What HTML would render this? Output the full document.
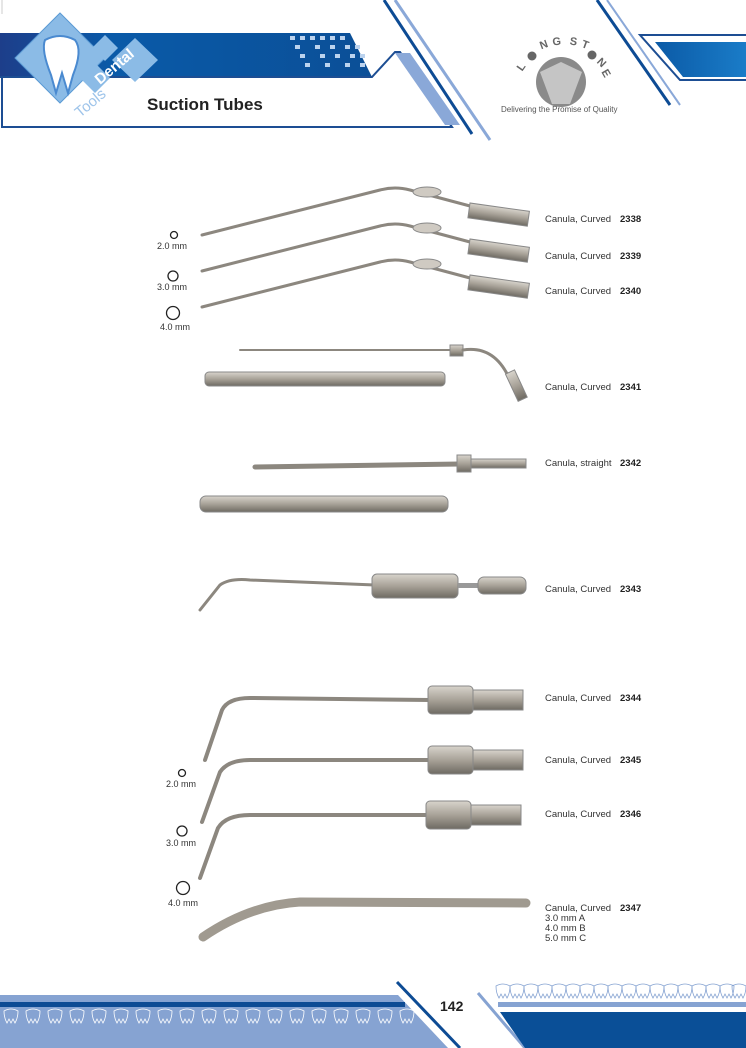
<!DOCTYPE html>
<html><head><meta charset="utf-8"><style>
html,body{margin:0;padding:0;background:#fff;}
svg{display:block;font-family:"Liberation Sans",sans-serif;}
</style></head><body>
<svg width="746" height="1048" viewBox="0 0 746 1048" xmlns="http://www.w3.org/2000/svg">
<defs>
<linearGradient id="band" x1="0" x2="1"><stop offset="0" stop-color="#1d3e8a"/><stop offset="0.3" stop-color="#0a5aa8"/><stop offset="1" stop-color="#0b4f97"/></linearGradient>
<linearGradient id="metal" x1="0" y1="0" x2="0" y2="1"><stop offset="0" stop-color="#d8d4cc"/><stop offset="0.5" stop-color="#a8a298"/><stop offset="1" stop-color="#6e6a62"/></linearGradient>
<linearGradient id="rb" x1="0" x2="1"><stop offset="0" stop-color="#0b5aa6"/><stop offset="1" stop-color="#1a7cc8"/></linearGradient>
</defs>
<line x1="2" y1="0" x2="2" y2="14" stroke="#ccc"/>
<polygon points="0,33 350,33 372,77 0,77" fill="url(#band)"/>
<g fill="#bcd3ee">
<rect x="290" y="36" width="5" height="4"/><rect x="300" y="36" width="5" height="4"/><rect x="310" y="36" width="5" height="4"/><rect x="320" y="36" width="5" height="4"/><rect x="330" y="36" width="5" height="4"/><rect x="340" y="36" width="5" height="4"/>
<rect x="295" y="45" width="5" height="4"/><rect x="315" y="45" width="5" height="4"/><rect x="330" y="45" width="5" height="4"/><rect x="345" y="45" width="5" height="4"/><rect x="355" y="45" width="5" height="4"/>
<rect x="300" y="54" width="5" height="4"/><rect x="320" y="54" width="5" height="4"/><rect x="335" y="54" width="5" height="4"/><rect x="350" y="54" width="5" height="4"/><rect x="360" y="54" width="5" height="4"/>
<rect x="305" y="63" width="5" height="4"/><rect x="325" y="63" width="5" height="4"/><rect x="345" y="63" width="5" height="4"/><rect x="360" y="63" width="5" height="4"/>
</g>
<polyline points="0,77 372,77 395,52 400,52 452,127 2,127 2,77" fill="none" stroke="#1d4e93" stroke-width="2"/>
<polygon points="395,53 410,53 460,125 445,125" fill="#8aa8d8"/>
<line x1="384" y1="0" x2="472" y2="134" stroke="#0d4b94" stroke-width="3"/>
<line x1="395" y1="0" x2="490" y2="140" stroke="#8aa8d8" stroke-width="3"/>
<line x1="597" y1="0" x2="670" y2="105" stroke="#0d4b94" stroke-width="3"/>
<line x1="607" y1="0" x2="680" y2="105" stroke="#8aa8d8" stroke-width="2"/>
<polyline points="746,35 640,35 680,80 746,80" fill="none" stroke="#1d4e93" stroke-width="2"/>
<polygon points="655,42 746,42 746,77 683,77" fill="url(#rb)"/>
<polygon points="60,13 105,58 60,103 15,58" fill="#8bbbe6" stroke="#5a9ad4"/>
<polygon points="105,35 118,48 105,61 92,48" fill="#8bbbe6"/>
<polygon points="135,38 158,60 135,82 112,60" fill="#8bbbe6"/>
<polygon points="95,63 110,78 95,93 80,78" fill="#8bbbe6"/>
<path d="M45,40 q15,-8 30,0 q8,10 -2,35 l-5,18 l-6,-20 l-6,20 l-5,-18 q-10,-25 -6,-35z" fill="#fff" stroke="#4a8ad0" stroke-width="2"/>
<text x="100" y="85" fill="#fff" font-weight="bold" font-size="15" transform="rotate(-40 100 85)">Dental</text>
<text x="80" y="118" fill="#9ec4ea" font-size="15" transform="rotate(-40 80 118)">Tools</text>
<text x="147" y="110" font-size="17" font-weight="bold" fill="#222">Suction Tubes</text>
<circle cx="561" cy="82" r="25" fill="#8a8a8a"/>
<polygon points="540,72 561,62 582,72 570,104 552,104" fill="#fff" opacity="0.5"/>
<g font-size="11" font-weight="bold" fill="#666" text-anchor="middle">
<text transform="translate(524,69) rotate(-55)">L</text>
<circle cx="532" cy="56" r="4.5" fill="#666"/>
<text transform="translate(545,48) rotate(-20)">N</text>
<text transform="translate(557,45) rotate(-5)">G</text>
<text transform="translate(573,45) rotate(8)">S</text>
<text transform="translate(584,48) rotate(20)">T</text>
<circle cx="592" cy="55" r="4.5" fill="#666"/>
<text transform="translate(599,65) rotate(45)">N</text>
<text transform="translate(603,75) rotate(60)">E</text>
</g>
<text x="501" y="112" font-size="8" fill="#555">Delivering the Promise of Quality</text>
<g stroke-linecap="round">
<g id="c1">
<path d="M202,235 L380,190 Q395,186 410,190 L470,206" fill="none" stroke="#8c877f" stroke-width="3"/>
<ellipse cx="427" cy="192" rx="14" ry="5" fill="#cfcac2" stroke="#888"/>
<rect x="470" y="203" width="60" height="15" fill="url(#metal)" stroke="#888" transform="rotate(8 470 203)"/>
</g>
<use href="#c1" y="36"/>
<use href="#c1" y="72"/>
<line x1="240" y1="350" x2="455" y2="350" stroke="#8c877f" stroke-width="2"/>
<rect x="450" y="345" width="13" height="11" fill="url(#metal)" stroke="#888"/>
<path d="M463,350 Q495,345 510,380" fill="none" stroke="#8c877f" stroke-width="3"/>
<rect x="505" y="372" width="10" height="30" fill="url(#metal)" stroke="#888" transform="rotate(-25 510 372)"/>
<rect x="205" y="372" width="240" height="14" rx="4" fill="url(#metal)" stroke="#888"/>
<line x1="255" y1="467" x2="460" y2="464" stroke="#8c877f" stroke-width="5"/>
<rect x="457" y="455" width="14" height="17" fill="url(#metal)" stroke="#888"/>
<rect x="471" y="459" width="55" height="9" fill="url(#metal)" stroke="#888"/>
<rect x="200" y="496" width="248" height="16" rx="6" fill="url(#metal)" stroke="#888"/>
<path d="M200,610 L220,585 Q230,578 250,580 L375,585" fill="none" stroke="#8c877f" stroke-width="3"/>
<rect x="372" y="574" width="86" height="24" rx="5" fill="url(#metal)" stroke="#888"/>
<rect x="458" y="583" width="20" height="5" fill="#999"/>
<rect x="478" y="577" width="48" height="17" rx="6" fill="url(#metal)" stroke="#888"/>
<path d="M205,760 L222,710 Q228,698 250,698 L430,700" fill="none" stroke="#8c877f" stroke-width="4"/>
<rect x="428" y="686" width="45" height="28" rx="4" fill="url(#metal)" stroke="#888"/>
<rect x="473" y="690" width="50" height="20" fill="url(#metal)" stroke="#888"/>
<path d="M202,822 L220,772 Q228,760 250,760 L430,760" fill="none" stroke="#8c877f" stroke-width="4"/>
<rect x="428" y="746" width="45" height="28" rx="4" fill="url(#metal)" stroke="#888"/>
<rect x="473" y="750" width="50" height="20" fill="url(#metal)" stroke="#888"/>
<path d="M200,878 L218,828 Q226,815 250,815 L428,815" fill="none" stroke="#8c877f" stroke-width="4"/>
<rect x="426" y="801" width="45" height="28" rx="4" fill="url(#metal)" stroke="#888"/>
<rect x="471" y="805" width="50" height="20" fill="url(#metal)" stroke="#888"/>
<path d="M203,937 Q250,905 300,902 L526,903" fill="none" stroke="#a09a90" stroke-width="9"/>
</g>
<g fill="none" stroke="#222" stroke-width="1.3">
<circle cx="174" cy="235" r="3.5"/><circle cx="173" cy="276" r="5"/><circle cx="173" cy="313" r="6.5"/>
<circle cx="182" cy="773" r="3.5"/><circle cx="182" cy="831" r="5"/><circle cx="183" cy="888" r="6.5"/>
</g>
<g font-size="9" fill="#333">
<text x="157" y="249">2.0 mm</text><text x="157" y="290">3.0 mm</text><text x="160" y="330">4.0 mm</text>
<text x="166" y="787">2.0 mm</text><text x="166" y="846">3.0 mm</text><text x="168" y="906">4.0 mm</text>
</g>
<g font-size="9.5" fill="#333">
<text x="545" y="222">Canula, Curved</text><text x="545" y="259">Canula, Curved</text><text x="545" y="294">Canula, Curved</text>
<text x="545" y="390">Canula, Curved</text><text x="545" y="466">Canula, straight</text><text x="545" y="592">Canula, Curved</text>
<text x="545" y="701">Canula, Curved</text><text x="545" y="763">Canula, Curved</text><text x="545" y="817">Canula, Curved</text>
<text x="545" y="911">Canula, Curved</text><text x="545" y="921">3.0 mm A</text><text x="545" y="931">4.0 mm B</text><text x="545" y="941">5.0 mm C</text>
</g>
<g font-size="9.5" font-weight="bold" fill="#222">
<text x="620" y="222">2338</text><text x="620" y="259">2339</text><text x="620" y="294">2340</text>
<text x="620" y="390">2341</text><text x="620" y="466">2342</text><text x="620" y="592">2343</text>
<text x="620" y="701">2344</text><text x="620" y="763">2345</text><text x="620" y="817">2346</text><text x="620" y="911">2347</text>
</g>
<polygon points="0,995 398,995 448,1048 0,1048" fill="#86a3d2"/>
<rect x="0" y="1002" width="405" height="5" fill="#0d4b94"/>
<line x1="397" y1="982" x2="460" y2="1048" stroke="#0d4b94" stroke-width="3"/>
<text x="440" y="1011" font-size="14" font-weight="bold" fill="#222">142</text>
<line x1="478" y1="993" x2="525" y2="1048" stroke="#86a3d2" stroke-width="3"/>
<rect x="498" y="1002" width="248" height="5" fill="#86a3d2"/>
<polygon points="500,1012 746,1012 746,1048 525,1048" fill="#0a4f97"/>
<g fill="none" stroke="#fff" stroke-width="0.8">
<path id="t" d="M4,1011 q7,-4 14,0 q0,7 -3,12 l-2,-4 l-2,4 l-2,-4 l-2,4 q-3,-5 -3,-12z"/>
</g>
<g fill="none" stroke="#fff" stroke-width="0.8">
<use href="#t" x="22"/><use href="#t" x="44"/><use href="#t" x="66"/><use href="#t" x="88"/><use href="#t" x="110"/><use href="#t" x="132"/><use href="#t" x="154"/><use href="#t" x="176"/><use href="#t" x="198"/><use href="#t" x="220"/><use href="#t" x="242"/><use href="#t" x="264"/><use href="#t" x="286"/><use href="#t" x="308"/><use href="#t" x="330"/><use href="#t" x="352"/><use href="#t" x="374"/><use href="#t" x="396"/>
</g>
<g fill="none" stroke="#86a3d2" stroke-width="0.8">
<use href="#t" x="492" y="-25"/><use href="#t" x="506" y="-25"/><use href="#t" x="520" y="-25"/><use href="#t" x="534" y="-25"/><use href="#t" x="548" y="-25"/><use href="#t" x="562" y="-25"/><use href="#t" x="576" y="-25"/><use href="#t" x="590" y="-25"/><use href="#t" x="604" y="-25"/><use href="#t" x="618" y="-25"/><use href="#t" x="632" y="-25"/><use href="#t" x="646" y="-25"/><use href="#t" x="660" y="-25"/><use href="#t" x="674" y="-25"/><use href="#t" x="688" y="-25"/><use href="#t" x="702" y="-25"/><use href="#t" x="716" y="-25"/><use href="#t" x="728" y="-25"/>
</g>
</svg>
</body></html>
